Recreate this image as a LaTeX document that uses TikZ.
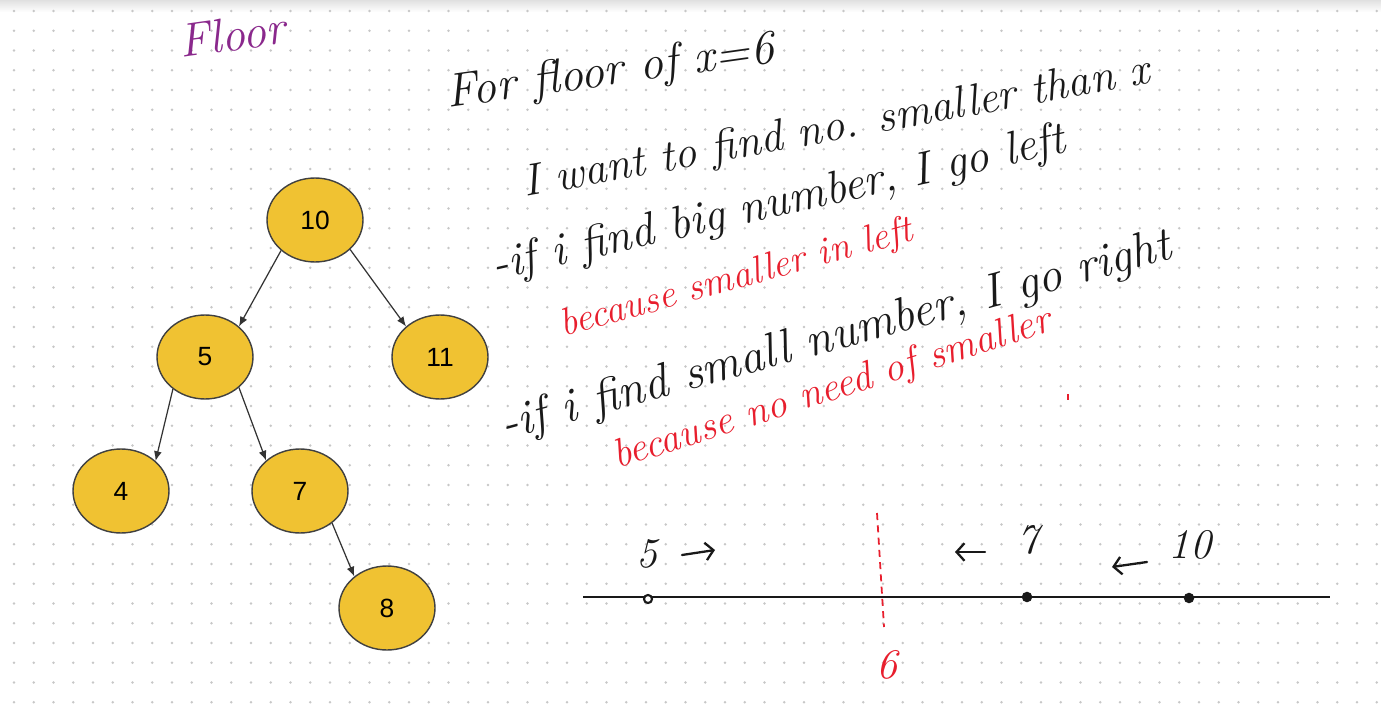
\documentclass[tikz,border=0pt]{standalone}
\usepackage{fontspec}
\usetikzlibrary{shapes.geometric,arrows.meta}
\newfontfamily\arialfont{Liberation Sans}
\definecolor{nodegold}{RGB}{240,194,50}
\definecolor{inkred}{RGB}{232,30,45}
\definecolor{inkpurple}{RGB}{138,40,140}
\definecolor{ink}{RGB}{25,25,25}

\begin{document}
\begin{tikzpicture}[x=0.02cm,y=-0.02cm,
  treenode/.style={ellipse,draw=black!75,line width=0.8pt,fill=nodegold,
    minimum width=1.92cm,minimum height=1.68cm,inner sep=0pt,
    font=\arialfont\fontsize{15}{17}\selectfont},
  link/.style={draw=black!80,line width=0.7pt,-{Latex[length=5.5pt,width=4.5pt]}},
  hand/.style={anchor=base west,inner sep=0pt,text=ink,
    font=\itshape\fontsize{#1}{#1}\selectfont},
  redhand/.style={hand=#1,text=inkred},
  hint/.style={ink,line width=1.3pt,line cap=round,
    -{Straight Barb[length=4.5pt,width=10pt]}}]
  \useasboundingbox (0,0) rectangle (1381,709);
  \fill[white] (0,0) rectangle (1381,709);
  \shade[top color=black!12,bottom color=white] (0,0) rectangle (1381,12);
  % dot grid
  \foreach \i in {0,...,69}
    \foreach \j in {0,...,35}
      \fill[black!22] ({14+19.75*\i},{11+19.75*\j}) circle (0.75pt);

  % title
  \node[hand=27,text=inkpurple,rotate=8] (title) at (181,58) {Floor};

  % the tree
  \node[treenode] (n10) at (315,220) {10};
  \node[treenode] (n5)  at (205,357) {5};
  \node[treenode] (n11) at (440,357) {11};
  \node[treenode] (n4)  at (121,491) {4};
  \node[treenode] (n7)  at (300,491) {7};
  \node[treenode] (n8)  at (387,608) {8};
  \draw[link] (n10.222) -- (n5.42);
  \draw[link] (n10.-40) -- (n11.138);
  \draw[link] (n5.225) -- (n4.41);
  \draw[link] (n5.-42) -- (n7.138);
  \draw[link] (n7.-45) -- (n8.136);

  % notes
  \node[hand=27,rotate=8] (line1) at (448,108) {For floor of x=6};
  \node[hand=25.5,rotate=10.3] (line2) at (525,197) {I want to find no. smaller than x};
  \node[hand=26.5,rotate=12.6] (line3) at (495,280) {-if i find big number, I go left};
  \node[redhand=22,rotate=15.4] (why1) at (563,337) {because smaller in left};
  \node[hand=27.5,rotate=15.2] (line4) at (505,440) {-if i find small number, I go right};
  \node[redhand=23,rotate=17.6] (why2) at (617,469) {because no need of smaller};
  \draw[inkred,line width=1pt] (1068,394) -- (1068,400);

  % number line
  \draw[ink,line width=1.6pt] (583,597) -- (1330,597);
  \draw[ink,line width=1.2pt,fill=white] (648,599) circle (2.3pt);
  \fill[ink] (1027,597) circle (3pt);
  \fill[ink] (1189,598) circle (3pt);
  \draw[inkred,line width=1pt,dash pattern=on 4pt off 3pt] (877,513) -- (884,627);
  \node[redhand=24,anchor=center] (six) at (887,665) {6};
  \node[hand=24,anchor=center] (five) at (647,554) {5};
  \node[hand=24,anchor=center] (seven) at (1028,540) {7};
  \node[hand=24,anchor=center] (ten) at (1190,545) {10};
  \draw[hint] (682,555) -- (715,550);
  \draw[hint] (985,552) -- (955,552);
  \draw[hint] (1147,562) -- (1112,567);
\end{tikzpicture}
\end{document}
